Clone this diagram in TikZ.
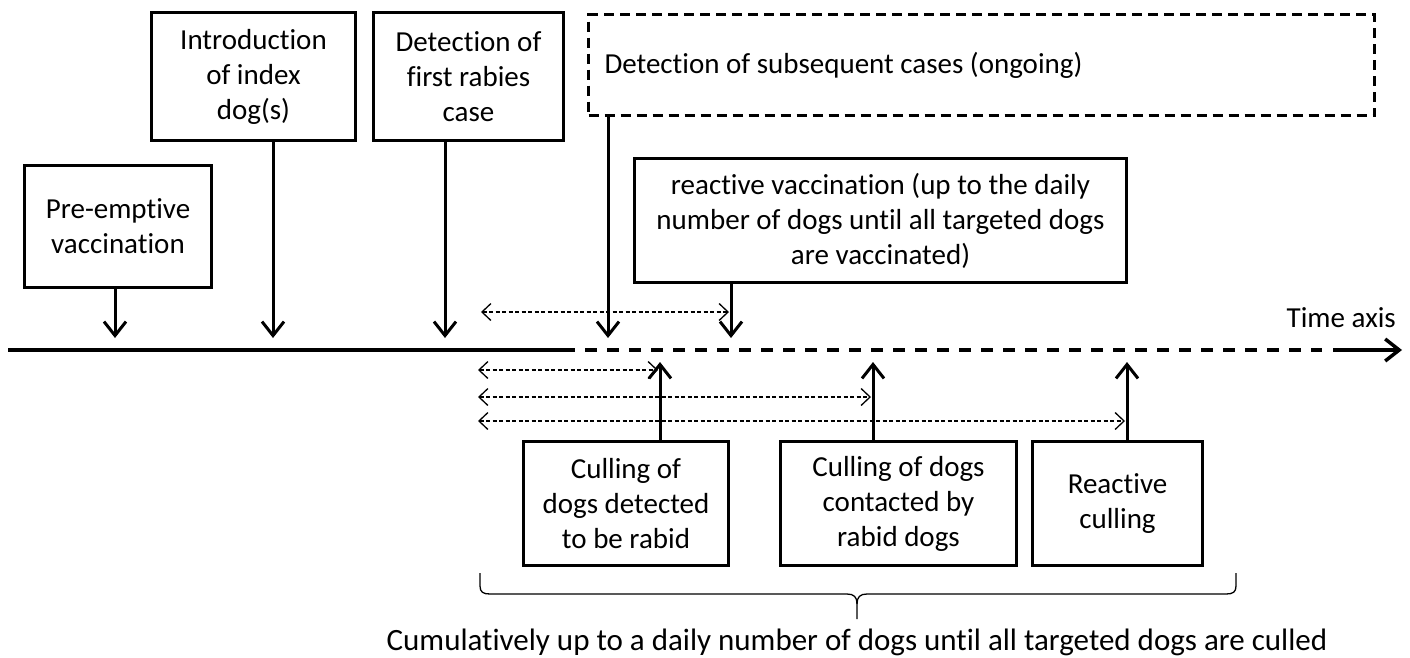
\documentclass[tikz,border=0pt]{standalone}
\usepackage{fontspec}
\setmainfont{Carlito}[Ligatures=NoCommon]
\usetikzlibrary{arrows.meta}

\begin{document}
\begin{tikzpicture}[x=1pt, y=-1pt]
\tikzstyle{event} = [rectangle, draw, line width=3.5pt, align=flush center,
    inner sep=0pt, font=\fontsize{29}{35}\selectfont]
\tikzstyle{ongoing} = [event, dash pattern=on 10pt off 6pt, align=flush left]
\tikzstyle{line} = [draw, line width=3pt, -{Straight Barb[length=14pt, width=22pt]}]
\tikzstyle{span} = [draw, line width=1.3pt, dash pattern=on 4pt off 2.5pt,
    {Straight Barb[length=9pt, width=17pt]}-{Straight Barb[length=9pt, width=17pt]}]
\tikzstyle{axis} = [line width=3.5pt]
\tikzstyle{axistext} = [inner sep=0pt, font=\fontsize{29}{35}\selectfont]

\useasboundingbox (0,0) rectangle (1410,657);

 \node [event, minimum width=187, minimum height=122] (pre) at (118,226.5) {Pre-emptive\\vaccination};
 \node [event, minimum width=204, minimum height=128] (intro) at (253.5,76.5) {Introduction\\of index\\dog(s)};
 \node [event, minimum width=190, minimum height=128] (first) at (468.5,76.5) {Detection of\\first rabies\\case};
 \node [ongoing, minimum width=786, minimum height=101, text width=754] (later) at (981.5,65) {Detection of subsequent cases (ongoing)};
 \node [event, minimum width=492, minimum height=124] (rvac) at (880.5,220.5) {reactive vaccination (up to the daily\\number of dogs until all targeted dogs\\are vaccinated)};

 \node [event, minimum width=205, minimum height=124] (cullrabid) at (626,503.5) {Culling of\\dogs detected\\to be rabid};
 \node [event, minimum width=236, minimum height=124] (cullcontact) at (898.5,503.5) {Culling of dogs\\contacted by\\rabid dogs};
 \node [event, minimum width=170, minimum height=124] (rcull) at (1117.5,503.5) {Reactive\\culling};

 % time axis
 \coordinate (a0) at (8,350);
 \coordinate (a1) at (575,350);
 \coordinate (a2) at (585,350);
 \coordinate (a3) at (1322,350);
 \coordinate (a4) at (1333,350);
 \coordinate (a5) at (1402,350);
 \draw [axis] (a0) -- (a1);
 \draw [axis, dash pattern=on 12pt off 10pt] (a2) -- (a3);
 \path [axis, draw, -{Straight Barb[length=14pt, width=22pt]}] (a4) -- (a5);
 \node [axistext, anchor=base east] (axname) at (1396,327) {Time axis};

 % arrow tips on the axis
 \coordinate (tpre) at (115,338);
 \coordinate (tintro) at (273,338);
 \coordinate (tfirst) at (445,338);
 \coordinate (tlater) at (608,338);
 \coordinate (trvac) at (731,338);
 \coordinate (tcull1) at (660,362);
 \coordinate (tcull2) at (873,362);
 \coordinate (tcull3) at (1127,362);

 \path [line] (pre.south -| tpre) -- (tpre);
 \path [line] (intro.south -| tintro) -- (tintro);
 \path [line] (first.south -| tfirst) -- (tfirst);
 \path [line] (later.south -| tlater) -- (tlater);
 \path [line] (rvac.south -| trvac) -- (trvac);

 \path [line] (cullrabid.north -| tcull1) -- (tcull1);
 \path [line] (cullcontact.north -| tcull2) -- (tcull2);
 \path [line] (rcull.north -| tcull3) -- (tcull3);

 % delays
 \coordinate (svac) at (481,312);
 \coordinate (sc1) at (478,370);
 \coordinate (sc2) at (478,397);
 \coordinate (sc3) at (478,421);
 \path [span, shorten >=2pt] (svac) -- (svac -| trvac);
 \path [span, shorten >=2pt] (sc1) -- (sc1 -| tcull1);
 \path [span, shorten >=2pt] (sc2) -- (sc2 -| tcull2);
 \path [span, shorten >=2pt] (sc3) -- (sc3 -| tcull3);

 % brace
 \draw [line width=1.3pt] (480,573) -- (480,586) .. controls (480,592) and (483,594) .. (490,594)
   -- (847,594) .. controls (854,594) and (857,597) .. (857,604) -- (857,619);
 \draw [line width=1.3pt] (1236,573) -- (1236,586) .. controls (1236,592) and (1233,594) .. (1226,594)
   -- (867,594) .. controls (860,594) and (857,597) .. (857,604);
 \node [axistext, anchor=base, font=\fontsize{31}{35}\selectfont] (cumul) at (857,650) {Cumulatively up to a daily number of dogs until all targeted dogs are culled};
\end{tikzpicture}
\end{document}
